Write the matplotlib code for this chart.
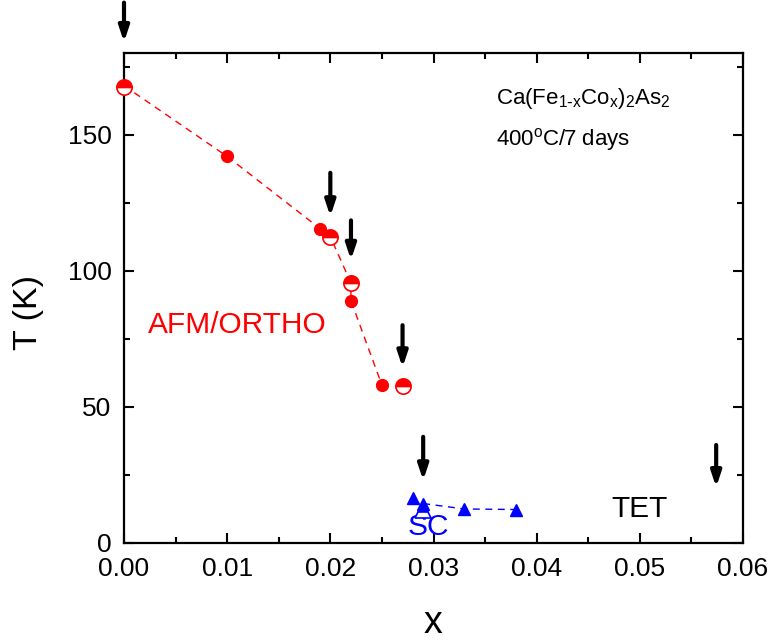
import matplotlib
matplotlib.use("Agg")
import matplotlib.pyplot as plt
from matplotlib.ticker import MultipleLocator, FormatStrFormatter

plt.rcParams['font.family'] = ['Liberation Sans', 'DejaVu Sans']

# AFM/ORTHO data (filled circles and half-filled circles)
x_full = [0.010, 0.019, 0.022, 0.025]
t_full = [142.0, 115.5, 89.0, 58.0]
x_half = [0.0, 0.020, 0.022, 0.027]
t_half = [167.5, 112.5, 95.5, 57.5]
# dashed guide line through the transition points
x_line = [0.0, 0.010, 0.019, 0.020, 0.022, 0.022, 0.025]
t_line = [168.0, 142.0, 115.5, 112.5, 95.5, 89.0, 58.0]

# SC data
x_sc = [0.028, 0.029, 0.033, 0.038]
t_sc = [16.5, 14.5, 12.5, 12.3]
x_sc_half = [0.029]
t_sc_half = [12.0]

# arrows: x position, top and bottom of the arrow (K)
x_arrow = [0.0, 0.020, 0.022, 0.027, 0.029, 0.0574]
arrow_top = [198.5, 136.0, 118.5, 80.0, 39.0, 36.0]
arrow_bot = [184.0, 120.0, 104.0, 64.5, 23.0, 20.5]

fig = plt.figure(figsize=(7.74, 6.4), dpi=100)
ax = fig.add_axes([124 / 774, 1 - 543 / 640, 619 / 774, 490 / 640])

ax.plot(x_line, t_line, '--', color='red', lw=1.0, dashes=(5, 4), zorder=2)
ax.plot(x_full, t_full, 'o', color='red', ms=8.5, ls='none', zorder=3, clip_on=False)
ax.plot(x_half, t_half, 'o', ls='none', ms=11, fillstyle='top', markerfacecolor='red',
        markerfacecoloralt='white', markeredgecolor='red', mew=1.2, zorder=4, clip_on=False)

ax.plot(x_sc[1:], t_sc[1:], '--', color='blue', lw=1.0, dashes=(5, 4), zorder=2)
ax.plot(x_sc, t_sc, '^', color='blue', ms=9, ls='none', zorder=3)
ax.plot(x_sc_half, t_sc_half, '^', ls='none', ms=11, fillstyle='top', markerfacecolor='blue',
        markerfacecoloralt='white', markeredgecolor='blue', mew=1.2, zorder=4)

for xa, ta, tb in zip(x_arrow, arrow_top, arrow_bot):
    ax.annotate('', xy=(xa, tb), xytext=(xa, ta), annotation_clip=False,
                arrowprops=dict(arrowstyle='-|>,head_length=0.9,head_width=0.3',
                                color='black', lw=3, shrinkA=0, shrinkB=0))

ax.text(0.0110, 80.0, 'AFM/ORTHO', color='red', fontsize=21.5, ha='center', va='center')
ax.text(0.0295, 6.0, 'SC', color='blue', fontsize=21.5, ha='center', va='center')
ax.text(0.0500, 12.5, 'TET', color='black', fontsize=21.5, ha='center', va='center')
ax.text(0.0361, 161.4, r'Ca(Fe$_{\mathregular{1\text{-}x}}$Co$_{\mathregular{x}}$)$_{\mathregular{2}}$As$_{\mathregular{2}}$',
        fontsize=16, ha='left', va='baseline')
ax.text(0.0361, 146.0, r'400$^{\mathregular{o}}$C/7 days', fontsize=16, ha='left', va='baseline')

ax.set_xlim(0, 0.06)
ax.set_ylim(0, 180)
ax.xaxis.set_major_locator(MultipleLocator(0.01))
ax.xaxis.set_minor_locator(MultipleLocator(0.005))
ax.yaxis.set_major_locator(MultipleLocator(50))
ax.yaxis.set_minor_locator(MultipleLocator(25))
ax.xaxis.set_major_formatter(FormatStrFormatter('%.2f'))
ax.tick_params(which='both', direction='in', top=True, right=True, width=1.5)
ax.tick_params(which='major', length=7, labelsize=19)
ax.tick_params(axis='x', which='major', pad=10)
ax.tick_params(axis='y', which='major', pad=9)
ax.tick_params(which='minor', length=4.5)
for s in ax.spines.values():
    s.set_linewidth(1.6)

ax.set_xlabel('x', fontsize=27)
ax.set_ylabel('T (K)', fontsize=24.5)
ax.xaxis.set_label_coords((433 - 124) / 619, -(623 - 543) / 490)
ax.yaxis.set_label_coords(-(124 - 29) / 619, (543 - 312) / 490)
ax.xaxis.label.set_va('center')
ax.yaxis.label.set_va('center')

fig.savefig('out.png', dpi=100)
